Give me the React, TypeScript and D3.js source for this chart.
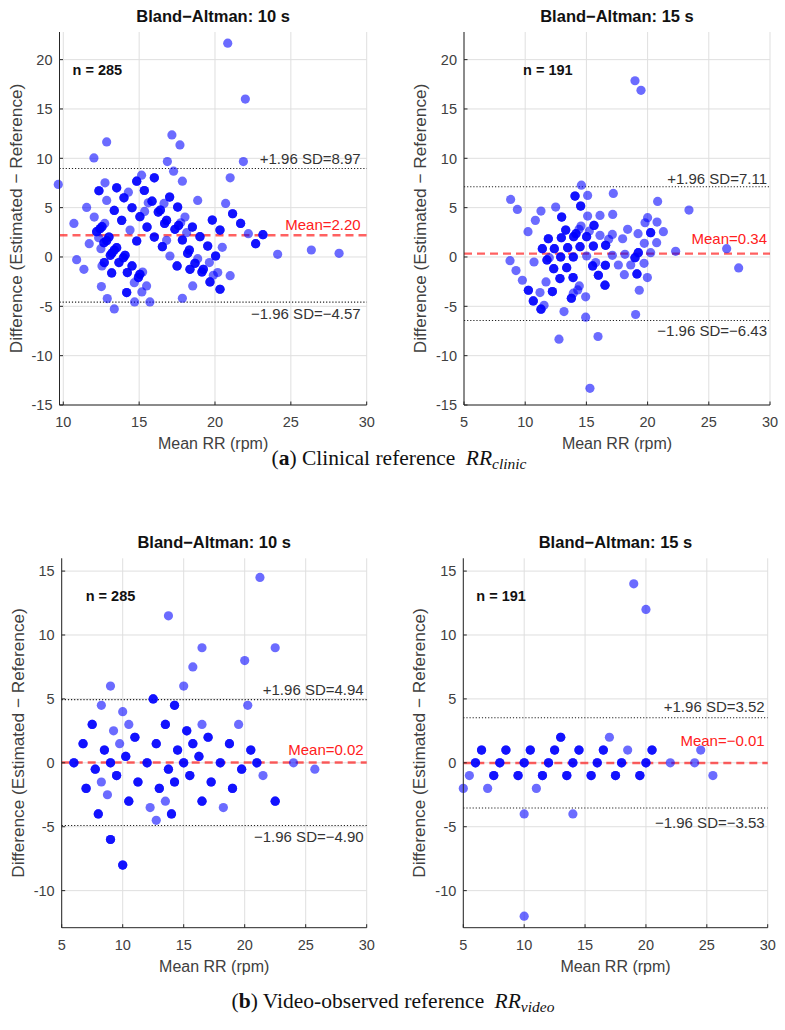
import React from 'react';
import * as d3 from 'd3';

type Pt = [number, number, number]; // [mean RR, difference, overlapping count]

const clinic10: Pt[] = [
  [9.67,7.35,1],[10.70,3.40,1],[10.88,-0.27,1],[11.36,-1.25,1],[11.54,5.02,1],[11.71,1.35,1],[12.02,10.04,1],[12.04,4.04,1],
  [12.35,6.71,3],[12.2,2.56,3],[12.42,2.86,3],[12.55,3.07,3],[12.33,1.95,1],[12.48,0.84,1],[12.51,-3.0,1],[12.55,-0.91,1],
  [12.7,-0.57,3],[12.75,7.52,1],[12.86,11.66,1],[12.86,5.73,1],[12.73,3.4,1],[12.68,1.45,3],[12.86,1.65,3],[13.01,2.02,3],
  [12.9,-4.21,1],[13.19,-1.62,3],[13.1,0.17,3],[13.21,0.40,3],[13.36,0.71,3],[13.52,0.94,3],[13.36,4.72,3],[13.36,-5.26,1],
  [13.52,7.01,3],[13.67,-0.57,3],[13.85,3.71,3],[13.96,-0.07,3],[14.07,0.17,3],[14.0,6.0,3],[14.29,6.57,1],[14.22,-1.58,3],
  [14.18,-3.61,3],[14.4,2.73,1],[14.53,4.99,3],[14.53,-0.91,3],[14.68,-2.6,1],[14.7,-4.55,1],[14.84,1.62,3],[14.84,7.68,3],
  [14.95,-2.09,3],[15.05,-1.75,3],[15.05,4.08,3],[15.16,8.29,1],[15.18,-3.54,1],[15.23,-1.52,1],[15.34,6.74,3],[15.36,4.62,1],
  [15.49,-2.93,1],[15.52,3.03,3],[15.71,-4.55,1],[15.6,5.49,1],[15.85,5.66,3],[16.0,2.02,3],[16.0,8.02,3],[16.26,4.55,3],
  [16.4,4.75,3],[16.53,1.04,3],[16.64,5.43,1],[16.68,3.4,3],[16.81,3.71,3],[16.86,9.67,1],[16.81,1.69,1],[17.01,6.07,3],
  [17.03,0.10,1],[17.16,12.37,1],[17.27,8.7,1],[17.36,2.8,3],[17.54,5.06,3],[17.5,-0.91,3],[17.6,3.2,3],[17.69,11.36,1],
  [17.74,3.47,1],[17.85,7.68,1],[17.85,1.72,3],[17.85,-4.18,1],[18.02,4.04,1],[18.13,2.46,1],[18.2,0.37,3],[18.31,0.71,3],
  [18.35,-1.25,3],[18.51,3.03,3],[18.53,-2.93,1],[18.68,-0.64,3],[18.86,-0.17,1],[18.86,5.73,1],[19.01,2.06,3],[19.14,-1.52,3],
  [19.23,-1.25,3],[19.52,1.11,3],[19.63,-0.57,1],[19.67,-2.53,3],[19.82,3.74,3],[19.89,-1.85,1],[20.04,0.10,3],[20.18,-1.58,1],
  [20.33,2.73,3],[20.33,-3.27,3],[20.48,0.98,1],[20.70,5.43,1],[20.84,21.67,1],[21.0,8.02,1],[21.0,-1.89,1],[21.16,4.38,3],
  [21.69,3.40,3],[21.87,9.67,1],[22.0,16.0,1],[22.2,2.36,1],[22.68,1.35,3],[23.16,2.26,3],[24.13,0.27,1],[26.35,0.71,1],
  [28.18,0.37,1],
];

const clinic15: Pt[] = [
  [8.81,5.83,1],[9.36,4.82,1],[8.76,-0.37,1],[9.25,-1.38,1],[9.77,-2.36,1],[10.23,2.56,1],[10.26,-3.37,3],[10.66,-4.45,3],
  [10.83,3.71,1],[10.72,-0.51,1],[11.29,4.65,1],[11.21,-3.61,1],[11.29,-5.29,3],[11.40,0.84,3],[11.54,-4.89,1],[11.70,-2.53,1],
  [11.89,1.85,3],[11.78,-0.30,3],[11.97,-0.07,1],[12.22,-3.51,3],[12.38,0.84,3],[12.33,-1.18,3],[12.49,5.06,1],[12.76,-8.33,1],
  [12.84,-2.19,3],[12.9,0.0,3],[12.95,1.95,3],[12.98,4.04,3],[13.17,-5.53,1],[13.31,2.73,3],[13.39,-1.08,3],[13.47,0.94,3],
  [13.77,-4.18,3],[13.93,-3.67,1],[13.91,-2.09,3],[13.93,0.0,3],[13.96,2.06,3],[14.07,6.17,3],[14.15,2.36,3],[14.29,-3.34,1],
  [14.4,2.80,1],[14.42,-2.93,1],[14.53,5.16,3],[14.48,1.04,3],[14.59,7.28,1],[14.56,3.13,1],[14.94,-6.10,1],[14.94,-4.04,1],
  [15.02,2.06,3],[15.02,0.10,1],[15.10,6.24,1],[15.10,4.15,1],[15.24,2.63,1],[15.29,-13.31,1],[15.51,-0.91,3],[15.57,1.11,3],
  [15.62,3.20,3],[15.76,-0.57,1],[15.98,-1.85,3],[15.95,-8.06,1],[16.11,2.19,1],[16.11,4.21,1],[16.52,-2.86,3],[16.55,-0.84,3],
  [16.57,1.18,3],[16.82,1.79,1],[17.12,2.29,1],[17.15,4.31,1],[17.2,6.44,1],[17.12,0.17,1],[17.61,-0.81,1],[17.96,1.85,1],
  [18.1,-1.79,1],[18.15,0.27,1],[18.37,2.80,1],[18.62,-0.81,1],[18.97,17.86,1],[19.02,-5.83,1],[18.97,-0.07,3],[19.13,-1.72,3],
  [19.22,2.36,1],[19.24,0.44,3],[19.32,-3.37,1],[19.46,16.89,1],[19.71,-0.64,1],[19.73,1.38,1],[19.79,3.47,1],[19.98,-2.09,1],
  [20.0,3.98,1],[20.25,2.46,3],[20.25,0.44,1],[20.74,1.45,1],[20.77,3.54,1],[20.82,5.63,1],[21.29,2.56,1],[22.29,0.57,1],
  [23.38,4.75,1],[26.46,0.84,1],[27.44,-1.11,1],
];

const video10: Pt[] = [
  [6,0,3],[6.75,1.5,3],[7,-2,3],[7.5,3,3],[7.75,-0.5,3],[8,-4,3],[8.25,4.5,1],[8.25,-1.5,1],[8.5,1,3],[8.75,-2.5,1],
  [9,6,1],[9,0,3],[9,-6,3],[9.25,2.5,1],[9.5,-1,3],[9.75,1.5,1],[10,4,1],[10,-8,3],[10.25,0.5,3],[10.5,3,1],[10.5,-3,3],
  [11,2,3],[11.25,-1.5,3],[12,0,3],[12.25,-3.5,1],[12.5,5,3],[12.75,1.5,3],[12.75,-4.5,1],[13,-2,3],[13.5,3,3],[13.5,-3,1],
  [13.75,-0.5,3],[13.75,11.5,1],[14,-4,3],[14.25,4.5,3],[14.25,-1.5,3],[14.5,1,3],[15,6,1],[15,0,3],[15.25,2.5,3],[15.5,-1,3],
  [15.75,7.5,1],[15.75,1.5,3],[16.25,0.5,3],[16.5,9,1],[16.5,3,1],[16.5,-3,3],[17,2,3],[17.25,-1.5,3],[18,0,3],[18.25,-3.5,1],
  [18.75,1.5,3],[19,-2,3],[19.5,3,1],[19.75,-0.5,3],[20,8,1],[20.25,4.5,1],[20.5,1,3],[21,0,3],[21.25,14.5,1],[21.5,-1,1],
  [22.5,9,1],[22.5,-3,3],[24,0,1],[25.75,-0.5,1],
];

const video15: Pt[] = [
  [5,-2,1],[5.5,-1,1],[6,0,3],[6.5,1,3],[7,-2,1],[7.5,-1,3],[8,0,3],[8.5,1,3],[9.5,-1,3],[10,0,3],[10,-4,1],[10,-12,1],
  [10.5,1,3],[11,-2,1],[11.5,-1,3],[12,0,3],[12.5,1,3],[13,2,3],[13.5,-1,3],[14,0,3],[14,-4,1],[14.5,1,3],[15.5,-1,3],
  [16,0,3],[16.5,1,3],[17,2,1],[17.5,-1,3],[18,0,3],[18.5,1,1],[19,14,1],[19.5,-1,3],[20,0,3],[20,12,1],[20.5,1,3],
  [22,0,1],[24,0,1],[24.5,1,1],[25.5,-1,1],
];

const panelData: Pt[][] = [clinic10, clinic15, video10, video15];
const titles = ['Bland−Altman: 10 s', 'Bland−Altman: 15 s', 'Bland−Altman: 10 s', 'Bland−Altman: 15 s'];
const sampleSizes = [285, 191, 285, 191];
const meanDiffs = [2.20, 0.34, 0.02, -0.01];
const upperLoA = [8.97, 7.11, 4.94, 3.52];
const lowerLoA = [-4.57, -6.43, -4.90, -3.53];
const xTicksList = [[10, 15, 20, 25, 30], [5, 10, 15, 20, 25, 30], [5, 10, 15, 20, 25, 30], [5, 10, 15, 20, 25, 30]];
const yTicksList = [
  [-15, -10, -5, 0, 5, 10, 15, 20],
  [-15, -10, -5, 0, 5, 10, 15, 20],
  [-10, -5, 0, 5, 10, 15],
  [-10, -5, 0, 5, 10, 15],
];
const xDomains: [number, number][] = [[9.75, 30], [5, 30], [5, 30], [5, 30]];
const yDomains: [number, number][] = [[-15, 22.8], [-15, 22.8], [-12.9, 16], [-12.9, 16]];
const xLabel = 'Mean RR (rpm)';
const yLabel = 'Difference (Estimated − Reference)';

// layout (pixels)
const layouts = [
  { left: 59.5, right: 366.7, top: 32, bottom: 405, nX: 13, upDy: -4, meanDy: -5, lowDy: 17, inset: 6 },
  { left: 464, right: 770, top: 32, bottom: 405, nX: 59, upDy: -3, meanDy: -10, lowDy: 16, inset: 3 },
  { left: 61.7, right: 366.7, top: 558.3, bottom: 927.7, nX: 24, upDy: -5, meanDy: -8, lowDy: 17, inset: 3 },
  { left: 463.3, right: 767.7, top: 558.3, bottom: 927.7, nX: 13, upDy: -6, meanDy: -17, lowDy: 20, inset: 3 },
];

const SANS = '"Liberation Sans", Arial, Helvetica, sans-serif';
const SERIF = '"Liberation Serif", "Times New Roman", serif';
const AX = '#262626';

const fmt = (v: number) => (v < 0 ? '−' : '') + Math.abs(v).toFixed(2);

function Panel({ i }: { i: number }) {
  const L = layouts[i];
  const x = d3.scaleLinear().domain(xDomains[i]).range([L.left, L.right]);
  const y = d3.scaleLinear().domain(yDomains[i]).range([L.bottom, L.top]);
  const pts: { cx: number; cy: number; k: string }[] = [];
  panelData[i].forEach((d, j) => {
    for (let c = 0; c < d[2]; c++) pts.push({ cx: x(d[0]), cy: y(d[1]), k: `${j}-${c}` });
  });
  const cxm = (L.left + L.right) / 2;
  const cym = (L.top + L.bottom) / 2;
  const lx = L.right - L.inset;
  return (
    <g>
      {xTicksList[i].map((t) => (
        <line key={'gx' + t} x1={x(t)} x2={x(t)} y1={L.top} y2={L.bottom} stroke="#dfdfdf" strokeWidth={1} />
      ))}
      {yTicksList[i].map((t) => (
        <line key={'gy' + t} x1={L.left} x2={L.right} y1={y(t)} y2={y(t)} stroke="#dfdfdf" strokeWidth={1} />
      ))}
      <line x1={L.left} x2={L.right} y1={y(upperLoA[i])} y2={y(upperLoA[i])} stroke="#222" strokeWidth={1.1} strokeDasharray="1.2,1.9" />
      <line x1={L.left} x2={L.right} y1={y(lowerLoA[i])} y2={y(lowerLoA[i])} stroke="#222" strokeWidth={1.1} strokeDasharray="1.2,1.9" />
      <line x1={L.left} x2={L.right} y1={y(meanDiffs[i])} y2={y(meanDiffs[i])} stroke="#ff0000" strokeOpacity={0.62} strokeWidth={2.4} strokeDasharray="8,5" />
      {pts.map((p) => (
        <circle key={p.k} cx={p.cx} cy={p.cy} r={4.6} fill="#0000ff" fillOpacity={0.58} />
      ))}
      <line x1={L.left} x2={L.left} y1={L.top} y2={L.bottom} stroke={AX} strokeWidth={1} />
      <line x1={L.left} x2={L.right} y1={L.bottom} y2={L.bottom} stroke={AX} strokeWidth={1} />
      {xTicksList[i].map((t) => (
        <g key={'xt' + t}>
          <line x1={x(t)} x2={x(t)} y1={L.bottom} y2={L.bottom - 3.5} stroke={AX} strokeWidth={1} />
          <text x={x(t)} y={L.bottom + 22} textAnchor="middle" fontFamily={SANS} fontSize={14.5} fill="#404040">{t}</text>
        </g>
      ))}
      {yTicksList[i].map((t) => (
        <g key={'yt' + t}>
          <line x1={L.left} x2={L.left + 3.5} y1={y(t)} y2={y(t)} stroke={AX} strokeWidth={1} />
          <text x={L.left - 7} y={y(t) + 5.2} textAnchor="end" fontFamily={SANS} fontSize={14.5} fill="#404040">{t}</text>
        </g>
      ))}
      <text x={cxm} y={L.bottom + 44} textAnchor="middle" fontFamily={SANS} fontSize={16} fill="#404040">{xLabel}</text>
      <text transform={`translate(${L.left - 44},${cym}) rotate(-90)`} y={6} textAnchor="middle" fontFamily={SANS} fontSize={17.2} fill="#404040">{yLabel}</text>
      <text x={cxm} y={L.top - 10.5} textAnchor="middle" fontFamily={SANS} fontSize={16.5} fontWeight="bold" fill="#111">{titles[i]}</text>
      <text x={L.left + L.nX} y={L.top + 43} fontFamily={SANS} fontSize={14.5} fontWeight="bold" fill="#111">{`n = ${sampleSizes[i]}`}</text>
      <text x={lx} y={y(upperLoA[i]) + L.upDy} textAnchor="end" fontFamily={SANS} fontSize={15} fill="#333">{`+1.96 SD=${fmt(upperLoA[i])}`}</text>
      <text x={lx} y={y(meanDiffs[i]) + L.meanDy} textAnchor="end" fontFamily={SANS} fontSize={15} fill="#ff2020">{`Mean=${fmt(meanDiffs[i])}`}</text>
      <text x={lx} y={y(lowerLoA[i]) + L.lowDy} textAnchor="end" fontFamily={SANS} fontSize={15} fill="#333">{`−1.96 SD=${fmt(lowerLoA[i])}`}</text>
    </g>
  );
}

function Caption({ cx, cy, letter, text, sub }: { cx: number; cy: number; letter: string; text: string; sub: string }) {
  return (
    <text x={cx} y={cy} textAnchor="middle" fontFamily={SERIF} fontSize={21.5} fill="#111">
      <tspan>(</tspan>
      <tspan fontWeight="bold">{letter}</tspan>
      <tspan>{`) ${text} `}</tspan>
      <tspan dx={5} fontStyle="italic">RR</tspan>
      <tspan fontStyle="italic" fontSize={15.5} dy={4}>{sub}</tspan>
    </text>
  );
}

export default function App() {
  return (
    <svg width={785} height={1030} style={{ position: 'absolute', left: 0, top: 0, background: '#fff' }}>
      <rect x={0} y={0} width={785} height={1030} fill="#fff" />
      {[0, 1, 2, 3].map((i) => (
        <Panel key={i} i={i} />
      ))}
      <Caption cx={399} cy={465} letter="a" text="Clinical reference" sub="clinic" />
      <Caption cx={393} cy={1008} letter="b" text="Video-observed reference" sub="video" />
    </svg>
  );
}
